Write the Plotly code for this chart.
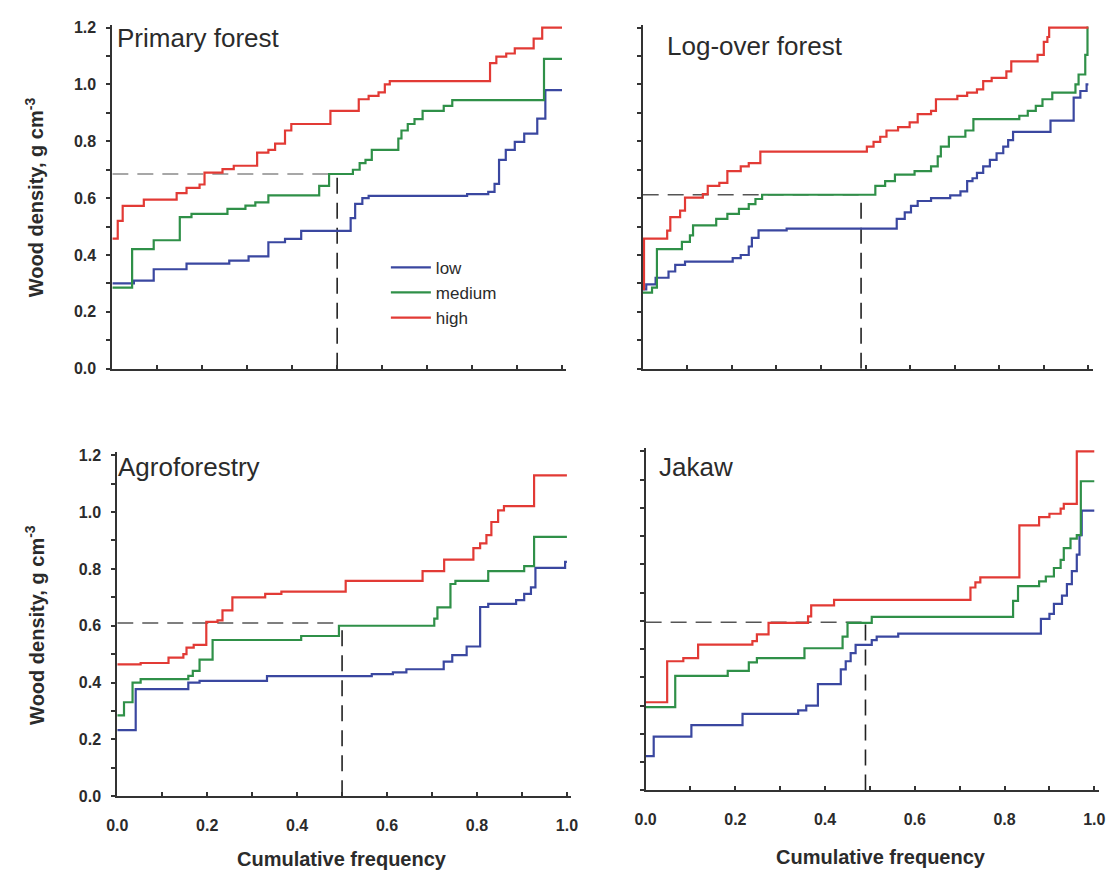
import plotly.graph_objects as go

# ---------------- data (cumulative frequency -> wood density, step curves) ----------------
categories = ["low", "medium", "high"]
panels = ["Primary forest", "Log-over forest", "Agroforestry", "Jakaw"]

# Primary forest
pf_low_x = [0, 0.048, 0.092, 0.165, 0.26, 0.303, 0.347, 0.384, 0.42, 0.53, 0.54, 0.556, 0.57, 0.789, 0.836, 0.85, 0.86, 0.875, 0.895, 0.916, 0.945, 0.963]
pf_low_y = [0.30, 0.31, 0.35, 0.37, 0.38, 0.395, 0.445, 0.457, 0.485, 0.53, 0.58, 0.60, 0.608, 0.614, 0.622, 0.65, 0.735, 0.77, 0.798, 0.827, 0.88, 0.98]
pf_med_x = [0, 0.044, 0.092, 0.15, 0.176, 0.256, 0.296, 0.318, 0.347, 0.46, 0.482, 0.535, 0.55, 0.563, 0.577, 0.636, 0.643, 0.657, 0.672, 0.69, 0.737, 0.756, 0.96]
pf_med_y = [0.285, 0.421, 0.452, 0.533, 0.545, 0.562, 0.574, 0.585, 0.61, 0.643, 0.685, 0.70, 0.723, 0.735, 0.77, 0.81, 0.838, 0.861, 0.878, 0.907, 0.925, 0.945, 1.09]
pf_high_x = [0, 0.012, 0.023, 0.07, 0.143, 0.165, 0.194, 0.205, 0.245, 0.27, 0.322, 0.347, 0.362, 0.384, 0.398, 0.485, 0.548, 0.57, 0.592, 0.606, 0.617, 0.84, 0.854, 0.876, 0.895, 0.937, 0.956]
pf_high_y = [0.458, 0.52, 0.573, 0.595, 0.618, 0.636, 0.648, 0.69, 0.702, 0.714, 0.76, 0.77, 0.792, 0.838, 0.861, 0.907, 0.948, 0.96, 0.972, 1.0, 1.012, 1.075, 1.098, 1.109, 1.127, 1.161, 1.2]

# Log-over forest
lo_low_x = [0, 0.008, 0.029, 0.058, 0.073, 0.095, 0.202, 0.22, 0.238, 0.245, 0.26, 0.323, 0.57, 0.588, 0.602, 0.617, 0.647, 0.69, 0.713, 0.728, 0.74, 0.75, 0.764, 0.779, 0.794, 0.809, 0.82, 0.831, 0.915, 0.967, 0.982, 0.996]
lo_low_y = [0.279, 0.297, 0.32, 0.342, 0.365, 0.377, 0.389, 0.40, 0.43, 0.46, 0.487, 0.493, 0.527, 0.55, 0.573, 0.59, 0.60, 0.61, 0.624, 0.66, 0.67, 0.689, 0.712, 0.735, 0.758, 0.781, 0.804, 0.833, 0.873, 0.954, 0.977, 1.0]
lo_med_x = [0, 0.021, 0.032, 0.088, 0.106, 0.113, 0.165, 0.19, 0.216, 0.238, 0.253, 0.268, 0.522, 0.544, 0.566, 0.61, 0.647, 0.662, 0.669, 0.687, 0.724, 0.742, 0.845, 0.864, 0.882, 0.897, 0.919, 0.971, 0.978, 0.993, 0.998]
lo_med_y = [0.268, 0.285, 0.421, 0.446, 0.469, 0.504, 0.527, 0.545, 0.562, 0.579, 0.597, 0.612, 0.643, 0.66, 0.683, 0.695, 0.712, 0.747, 0.781, 0.816, 0.838, 0.878, 0.89, 0.907, 0.925, 0.948, 0.971, 1.0, 1.035, 1.104, 1.2]
lo_high_x = [0, 0.003, 0.055, 0.062, 0.084, 0.095, 0.135, 0.146, 0.172, 0.19, 0.22, 0.238, 0.264, 0.503, 0.518, 0.533, 0.547, 0.573, 0.599, 0.617, 0.647, 0.658, 0.706, 0.728, 0.75, 0.764, 0.783, 0.816, 0.827, 0.886, 0.9, 0.908, 0.912]
lo_high_y = [0.28, 0.458, 0.486, 0.533, 0.556, 0.602, 0.614, 0.643, 0.654, 0.695, 0.712, 0.723, 0.764, 0.781, 0.798, 0.816, 0.838, 0.85, 0.867, 0.896, 0.907, 0.948, 0.96, 0.971, 0.983, 1.012, 1.023, 1.046, 1.081, 1.104, 1.15, 1.167, 1.2]

# Agroforestry
af_low_x = [0, 0.041, 0.158, 0.183, 0.333, 0.566, 0.613, 0.643, 0.726, 0.745, 0.777, 0.807, 0.825, 0.887, 0.905, 0.92, 0.93, 0.996]
af_low_y = [0.233, 0.377, 0.40, 0.406, 0.423, 0.43, 0.436, 0.447, 0.474, 0.497, 0.527, 0.666, 0.677, 0.69, 0.712, 0.735, 0.804, 0.825]
af_med_x = [0, 0.015, 0.034, 0.052, 0.158, 0.168, 0.183, 0.212, 0.409, 0.493, 0.705, 0.712, 0.741, 0.752, 0.825, 0.905, 0.927]
af_med_y = [0.285, 0.331, 0.40, 0.412, 0.424, 0.441, 0.481, 0.55, 0.564, 0.60, 0.625, 0.665, 0.747, 0.758, 0.792, 0.81, 0.913]
af_high_x = [0, 0.052, 0.114, 0.147, 0.154, 0.17, 0.198, 0.223, 0.234, 0.256, 0.329, 0.365, 0.508, 0.679, 0.727, 0.792, 0.807, 0.821, 0.832, 0.847, 0.86, 0.927]
af_high_y = [0.464, 0.469, 0.488, 0.50, 0.523, 0.533, 0.614, 0.619, 0.654, 0.70, 0.712, 0.72, 0.758, 0.792, 0.833, 0.873, 0.89, 0.919, 0.965, 1.006, 1.021, 1.129]

# Jakaw
jk_low_x = [0, 0.018, 0.102, 0.216, 0.34, 0.358, 0.384, 0.435, 0.446, 0.457, 0.468, 0.504, 0.515, 0.563, 0.881, 0.9, 0.91, 0.928, 0.939, 0.95, 0.961, 0.967, 0.972]
jk_low_y = [0.121, 0.19, 0.231, 0.271, 0.283, 0.30, 0.376, 0.428, 0.457, 0.486, 0.515, 0.532, 0.544, 0.555, 0.607, 0.625, 0.66, 0.689, 0.73, 0.776, 0.834, 0.903, 0.99]
jk_med_x = [0, 0.066, 0.183, 0.23, 0.248, 0.354, 0.439, 0.45, 0.504, 0.819, 0.83, 0.877, 0.892, 0.91, 0.925, 0.932, 0.947, 0.961, 0.97]
jk_med_y = [0.295, 0.405, 0.423, 0.453, 0.468, 0.503, 0.544, 0.593, 0.614, 0.671, 0.723, 0.74, 0.757, 0.787, 0.816, 0.857, 0.891, 0.903, 1.094]
jk_high_x = [0, 0.048, 0.084, 0.117, 0.238, 0.248, 0.274, 0.362, 0.369, 0.42, 0.724, 0.735, 0.746, 0.833, 0.877, 0.9, 0.925, 0.932, 0.961]
jk_high_y = [0.312, 0.457, 0.468, 0.516, 0.528, 0.552, 0.593, 0.616, 0.655, 0.674, 0.718, 0.736, 0.754, 0.938, 0.967, 0.979, 0.997, 1.014, 1.2]

# medians (cumulative frequency, wood density) for dashed guide lines
median_x = [0.5, 0.49, 0.5, 0.49]
median_y = [0.685, 0.612, 0.61, 0.595]

x_ticks = [0.0, 0.1, 0.2, 0.3, 0.4, 0.5, 0.6, 0.7, 0.8, 0.9, 1.0]
x_tick_text = ["0.0", "", "0.2", "", "0.4", "", "0.6", "", "0.8", "", "1.0"]
y_ticks = [0.0, 0.1, 0.2, 0.3, 0.4, 0.5, 0.6, 0.7, 0.8, 0.9, 1.0, 1.1, 1.2]
y_tick_text = ["0.0", "", "0.2", "", "0.4", "", "0.6", "", "0.8", "", "1.0", "", "1.2"]

series = [
    [(pf_low_x, pf_low_y), (pf_med_x, pf_med_y), (pf_high_x, pf_high_y)],
    [(lo_low_x, lo_low_y), (lo_med_x, lo_med_y), (lo_high_x, lo_high_y)],
    [(af_low_x, af_low_y), (af_med_x, af_med_y), (af_high_x, af_high_y)],
    [(jk_low_x, jk_low_y), (jk_med_x, jk_med_y), (jk_high_x, jk_high_y)],
]

# ---------------- styling / layout ----------------
W, H = 1119, 881
colors = ["#3a47a0", "#2f9048", "#e23a35"]
FONT = "Arial, Liberation Sans, sans-serif"
TXT = "#2b2b2b"

# pixel anchors of each panel: (x=0 px, x=1 px, y=0 px, y=1.2 px)
anchors = [
    (103, 560, 369, 22),
    (642, 1095, 369, 22),
    (108, 565, 804, 457),
    (645, 1101, 798, 453),
]
XR = [0, 1.01]
YR = [0, 1.21]

fig = go.Figure()
layout = dict(
    width=W, height=H,
    margin=dict(l=0, r=0, t=0, b=0),
    paper_bgcolor="white", plot_bgcolor="white",
    font=dict(family=FONT, color=TXT),
    showlegend=True,
)

for i in range(4):
    x0p, x1p, y0p, y12p = anchors[i]
    ppx = (x1p - x0p)
    ppy = (y0p - y12p) / 1.2
    dom_x = [(x0p + XR[0] * ppx) / W, (x0p + XR[1] * ppx) / W]
    dom_y = [1 - (y0p - YR[0] * ppy) / H, 1 - (y0p - YR[1] * ppy) / H]
    xa = "xaxis" if i == 0 else f"xaxis{i+1}"
    ya = "yaxis" if i == 0 else f"yaxis{i+1}"
    xr = "x" if i == 0 else f"x{i+1}"
    yr = "y" if i == 0 else f"y{i+1}"
    bottom = i >= 2
    left = i in (0, 2)
    layout[xa] = dict(
        domain=dom_x, anchor=yr, range=XR, showgrid=False, zeroline=False,
        showline=True, linecolor="#333", linewidth=2,
        ticks="inside", ticklen=4, tickwidth=1.5, tickcolor="#333",
        tickvals=x_ticks, ticktext=x_tick_text if bottom else [""] * len(x_ticks),
        tickfont=dict(size=16, family=FONT, color=TXT, weight="bold"),
        ticklabelstandoff=13,
        fixedrange=True,
    )
    layout[ya] = dict(
        domain=dom_y, anchor=xr, range=YR, showgrid=False, zeroline=False,
        showline=True, linecolor="#333", linewidth=2,
        ticks="outside", ticklen=4, tickwidth=1.5, tickcolor="#333",
        tickvals=y_ticks, ticktext=y_tick_text if left else [""] * len(y_ticks),
        tickfont=dict(size=16, family=FONT, color=TXT, weight="bold"),
        ticklabelstandoff=7,
        fixedrange=True,
    )

    # median guide lines
    mx, my = median_x[i], median_y[i]
    fig.add_trace(go.Scatter(x=[0, mx], y=[my, my], mode="lines", xaxis=xr, yaxis=yr,
                             line=dict(color="#8a8a8a" if i == 0 else "#555555", width=1.6, dash="16px,9px"),
                             showlegend=False, hoverinfo="skip"))
    fig.add_trace(go.Scatter(x=[mx, mx], y=[0, my], mode="lines", xaxis=xr, yaxis=yr,
                             line=dict(color="#222222", width=1.6, dash="16px,9px"),
                             showlegend=False, hoverinfo="skip"))

    for k, (xs, ys) in enumerate(series[i]):
        fig.add_trace(go.Scatter(
            x=list(xs) + [1.0], y=list(ys) + [ys[-1]],
            mode="lines", line=dict(color=colors[k], width=2.2, shape="hv"),
            name=categories[k], legendgroup=categories[k], showlegend=(i == 0),
            xaxis=xr, yaxis=yr,
        ))

fig.update_layout(**layout)
fig.update_layout(legend=dict(
    x=381 / W, y=1 - 248 / H, xanchor="left", yanchor="top",
    bgcolor="rgba(0,0,0,0)", font=dict(size=17, family=FONT, color=TXT),
    tracegroupgap=0, itemwidth=40,
))

# panel titles
title_pos = [(106, 33), (665, 41), (107, 469), (657, 469)]
for (tx, ty), name in zip(title_pos, panels):
    fig.add_annotation(x=tx / W, y=1 - ty / H, xref="paper", yref="paper",
                       text=name, showarrow=False, xanchor="left", yanchor="middle",
                       font=dict(size=26, family=FONT, color=TXT))

# y axis titles
for cy in (195, 630):
    fig.add_annotation(x=24 / W, y=1 - cy / H, xref="paper", yref="paper",
                       text="<b>Wood density, g cm<sup>-3</sup></b>", textangle=-90,
                       showarrow=False, xanchor="center", yanchor="middle",
                       font=dict(size=20, family=FONT, color=TXT))
# x axis titles
for cx, cy in ((336, 868), (884, 866)):
    fig.add_annotation(x=cx / W, y=1 - cy / H, xref="paper", yref="paper",
                       text="<b>Cumulative frequency</b>",
                       showarrow=False, xanchor="center", yanchor="middle",
                       font=dict(size=20, family=FONT, color=TXT))

fig.write_html("out.html")
